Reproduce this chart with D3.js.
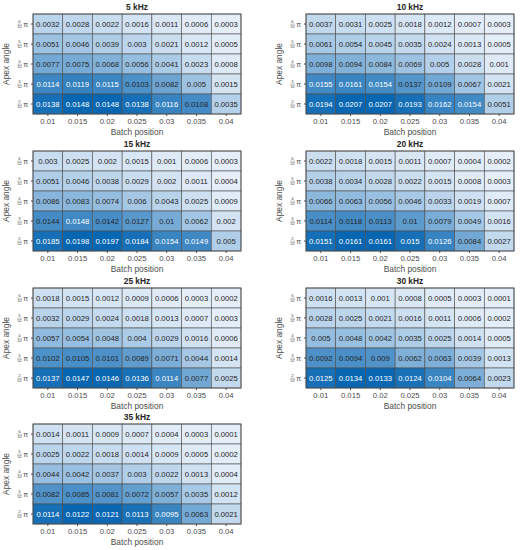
<!DOCTYPE html>
<html><head><meta charset="utf-8">
<script src="https://cdn.jsdelivr.net/npm/d3@7"></script>
<style>body{margin:0;background:#fff}svg{display:block}text{font-family:"Liberation Sans",Arial,sans-serif}</style>
</head><body>
<svg id="c" width="522" height="550"></svg>
<script>
const batchPositions = ["0.01","0.015","0.02","0.025","0.03","0.035","0.04"];
const apexNumerators = [6,5,4,3,2];
const titles = ["5 kHz","10 kHz","15 kHz","20 kHz","25 kHz","30 kHz","35 kHz"];
const v5 = [
 [0.0032,0.0028,0.0022,0.0016,0.0011,0.0006,0.0003],
 [0.0051,0.0046,0.0039,0.003,0.0021,0.0012,0.0005],
 [0.0077,0.0075,0.0068,0.0056,0.0041,0.0023,0.0008],
 [0.0114,0.0119,0.0115,0.0103,0.0082,0.005,0.0015],
 [0.0138,0.0148,0.0148,0.0138,0.0116,0.0108,0.0035]];
const v10 = [
 [0.0037,0.0031,0.0025,0.0018,0.0012,0.0007,0.0003],
 [0.0061,0.0054,0.0045,0.0035,0.0024,0.0013,0.0005],
 [0.0098,0.0094,0.0084,0.0069,0.005,0.0028,0.001],
 [0.0155,0.0161,0.0154,0.0137,0.0109,0.0067,0.0021],
 [0.0194,0.0207,0.0207,0.0193,0.0162,0.0154,0.0051]];
const v15 = [
 [0.003,0.0025,0.002,0.0015,0.001,0.0006,0.0003],
 [0.0051,0.0046,0.0038,0.0029,0.002,0.0011,0.0004],
 [0.0086,0.0083,0.0074,0.006,0.0043,0.0025,0.0009],
 [0.0144,0.0148,0.0142,0.0127,0.01,0.0062,0.002],
 [0.0185,0.0198,0.0197,0.0184,0.0154,0.0149,0.005]];
const v20 = [
 [0.0022,0.0018,0.0015,0.0011,0.0007,0.0004,0.0002],
 [0.0038,0.0034,0.0028,0.0022,0.0015,0.0008,0.0003],
 [0.0066,0.0063,0.0056,0.0046,0.0033,0.0019,0.0007],
 [0.0114,0.0118,0.0113,0.01,0.0079,0.0049,0.0016],
 [0.0151,0.0161,0.0161,0.015,0.0126,0.0084,0.0027]];
const v25 = [
 [0.0018,0.0015,0.0012,0.0009,0.0006,0.0003,0.0002],
 [0.0032,0.0029,0.0024,0.0018,0.0013,0.0007,0.0003],
 [0.0057,0.0054,0.0048,0.004,0.0029,0.0016,0.0006],
 [0.0102,0.0105,0.0101,0.0089,0.0071,0.0044,0.0014],
 [0.0137,0.0147,0.0146,0.0136,0.0114,0.0077,0.0025]];
const v30 = [
 [0.0016,0.0013,0.001,0.0008,0.0005,0.0003,0.0001],
 [0.0028,0.0025,0.0021,0.0016,0.0011,0.0006,0.0002],
 [0.005,0.0048,0.0042,0.0035,0.0025,0.0014,0.0005],
 [0.0092,0.0094,0.009,0.0062,0.0063,0.0039,0.0013],
 [0.0125,0.0134,0.0133,0.0124,0.0104,0.0064,0.0023]];
const v35 = [
 [0.0014,0.0011,0.0009,0.0007,0.0004,0.0003,0.0001],
 [0.0025,0.0022,0.0018,0.0014,0.0009,0.0005,0.0002],
 [0.0044,0.0042,0.0037,0.003,0.0022,0.0013,0.0004],
 [0.0082,0.0085,0.0081,0.0072,0.0057,0.0035,0.0012],
 [0.0114,0.0122,0.0121,0.0113,0.0095,0.0063,0.0021]];
const panelsData = [v5,v10,v15,v20,v25,v30,v35];

const svg = d3.select("#c");
const colLefts = [33, 306];
const rowTops = [14, 151, 288, 424];
const W = 208, H = 100;
const colorInterp = d3.interpolateRgb("#e6eff9", "#0766b2");

panelsData.forEach((data, i) => {
  const left = colLefts[i % 2], top = rowTops[Math.floor(i / 2)];
  const g = svg.append("g").attr("transform", `translate(${left},${top})`);
  const x = d3.scaleBand().domain(batchPositions).range([0, W]);
  const y = d3.scaleBand().domain(apexNumerators).range([0, H]);
  const flat = data.flat();
  const c = d3.scaleLinear().domain(d3.extent(flat)).range([0, 1]);
  const cells = [];
  data.forEach((row, ri) => row.forEach((v, ci) => cells.push({r: apexNumerators[ri], c: batchPositions[ci], v})));
  g.selectAll("rect.cell").data(cells).join("rect").attr("class","cell")
    .attr("x", d => x(d.c)).attr("y", d => y(d.r))
    .attr("width", x.bandwidth()).attr("height", y.bandwidth())
    .attr("fill", d => colorInterp(c(d.v)))
    .attr("stroke", "#4d4d4d").attr("stroke-width", 0.6);
  g.selectAll("text.val").data(cells).join("text").attr("class","val")
    .attr("x", d => x(d.c) + x.bandwidth()/2).attr("y", d => y(d.r) + y.bandwidth()/2)
    .attr("text-anchor","middle").attr("dominant-baseline","central")
    .attr("font-size", 7.7)
    .attr("fill", d => c(d.v) > 0.73 ? "#ffffff" : "#262626")
    .text(d => String(d.v));
  g.append("rect").attr("width", W).attr("height", H).attr("fill","none")
    .attr("stroke","#4d4d4d").attr("stroke-width", 0.8);
  g.append("text").attr("x", W/2).attr("y", -4).attr("text-anchor","middle")
    .attr("font-size", 8.4).attr("font-weight","bold").attr("fill","#262626").text(titles[i]);
  const xa = g.append("g").attr("transform", `translate(0,${H})`)
    .call(d3.axisBottom(x).tickSize(2).tickPadding(3));
  xa.select(".domain").remove();
  xa.selectAll("line").attr("stroke","#4d4d4d");
  xa.selectAll("text").attr("font-size", 7.7).attr("fill","#4d4d4d").attr("font-family","Liberation Sans, Arial, sans-serif");
  g.append("text").attr("x", W/2).attr("y", H + 21).attr("text-anchor","middle")
    .attr("font-size", 8.4).attr("fill","#4d4d4d").text("Batch position");
  const ya = g.append("g").call(d3.axisLeft(y).tickSize(2).tickFormat(""));
  ya.select(".domain").remove();
  ya.selectAll("line").attr("stroke","#4d4d4d");
  apexNumerators.forEach(n => {
    const cy = y(n) + y.bandwidth()/2;
    const lg = g.append("g").attr("transform", `translate(-4,${cy})`);
    lg.append("text").attr("x", -1).attr("y", 0).attr("text-anchor","end").attr("dominant-baseline","central")
      .attr("font-size", 7).attr("fill","#4d4d4d").text("π");
    lg.append("text").attr("x", -9.5).attr("y", -1.2).attr("text-anchor","middle")
      .attr("font-size", 4.2).attr("fill","#4d4d4d").text(n);
    lg.append("line").attr("x1", -12).attr("x2", -7).attr("y1", 0.2).attr("y2", 0.2)
      .attr("stroke","#4d4d4d").attr("stroke-width", 0.35);
    lg.append("text").attr("x", -9.5).attr("y", 4.4).attr("text-anchor","middle")
      .attr("font-size", 4.2).attr("fill","#4d4d4d").text("32");
  });
  g.append("text").attr("transform", `translate(-24,${H/2}) rotate(-90)`)
    .attr("text-anchor","middle").attr("font-size", 8.4).attr("fill","#4d4d4d").text("Apex angle");
});
</script>
</body></html>
